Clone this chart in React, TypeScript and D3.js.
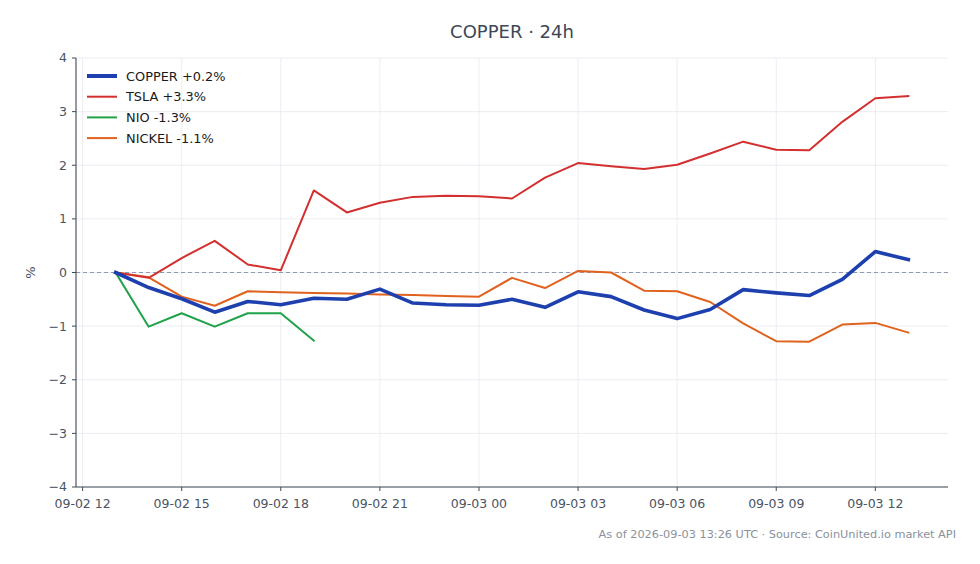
import * as d3 from "d3";

const hours = [
  "09-02 13", "09-02 14", "09-02 15", "09-02 16", "09-02 17", "09-02 18", "09-02 19",
  "09-02 20", "09-02 21", "09-02 22", "09-02 23", "09-03 00", "09-03 01", "09-03 02",
  "09-03 03", "09-03 04", "09-03 05", "09-03 06", "09-03 07", "09-03 08", "09-03 09",
  "09-03 10", "09-03 11", "09-03 12", "09-03 13",
];

const copper = [0, -0.28, -0.49, -0.74, -0.54, -0.6, -0.48, -0.5, -0.31, -0.57, -0.6, -0.61, -0.5,
  -0.65, -0.36, -0.45, -0.7, -0.86, -0.69, -0.32, -0.38, -0.43, -0.13, 0.39, 0.24];
const tsla = [0, -0.1, 0.27, 0.59, 0.15, 0.04, 1.53, 1.12, 1.3, 1.41, 1.43, 1.42, 1.38, 1.77, 2.04,
  1.98, 1.93, 2.01, 2.22, 2.44, 2.29, 2.28, 2.81, 3.25, 3.29];
const nio = [0, -1.01, -0.76, -1.01, -0.76, -0.76, -1.27];
const nickel = [0, -0.09, -0.45, -0.62, -0.35, -0.37, -0.38, -0.39, -0.41, -0.42, -0.44, -0.45, -0.1,
  -0.29, 0.03, 0.0, -0.34, -0.35, -0.55, -0.95, -1.28, -1.29, -0.97, -0.94, -1.12];

const xTickLabels = ["09-02 12", "09-02 15", "09-02 18", "09-02 21", "09-03 00", "09-03 03", "09-03 06", "09-03 09", "09-03 12"];
const yTicks = [-4, -3, -2, -1, 0, 1, 2, 3, 4];

const series = [
  { name: "COPPER +0.2%", values: copper, color: "#1e40af", width: 3.6 },
  { name: "TSLA +3.3%", values: tsla, color: "#d42f2f", width: 2 },
  { name: "NIO -1.3%", values: nio, color: "#1fa24a", width: 2 },
  { name: "NICKEL -1.1%", values: nickel, color: "#e0621e", width: 2 },
];

const parse = d3.utcParse("%Y-%m-%d %H");
const toDate = (s: string) => parse("2026-" + s)!;

export default function App() {
  const width = 980;
  const height = 564;
  const left = 76, right = 948, top = 58, bottom = 487;

  const dates = hours.map(toDate);
  const span = +dates[dates.length - 1] - +dates[0];
  const x = d3.scaleUtc()
    .domain([new Date(+dates[0] - span * 0.05), new Date(+dates[dates.length - 1] + span * 0.05)])
    .range([left, right]);
  const y = d3.scaleLinear().domain([-4, 4]).range([bottom, top]);

  const line = d3.line<number>()
    .x((_, i) => x(dates[i]))
    .y(d => y(d));

  const xTicks = xTickLabels.map(toDate);
  const axisColor = "#3f4856";
  const tickText = "#4a5363";
  const font = "DejaVu Sans, sans-serif";

  return (
    <svg width={width} height={height} style={{ position: "absolute", left: 0, top: 0, background: "#fff" }} fontFamily={font}>
      <text x={512} y={38} textAnchor="middle" fontSize={18} fill="#3d4757">COPPER · 24h</text>

      {/* grid */}
      {xTicks.map((d, i) => (
        <line key={"gx" + i} x1={x(d)} x2={x(d)} y1={top} y2={bottom} stroke="#e6e9ef" strokeWidth={0.8} />
      ))}
      {yTicks.map(v => (
        <line key={"gy" + v} x1={left} x2={right} y1={y(v)} y2={y(v)} stroke="#e6e9ef" strokeWidth={0.8} />
      ))}

      {/* zero line */}
      <line x1={left} x2={right} y1={y(0)} y2={y(0)} stroke="#8e9ab0" strokeWidth={1} strokeDasharray="4,3" />

      {/* series */}
      {series.slice().reverse().map(s => (
        <path key={s.name} d={line(s.values) ?? ""} fill="none" stroke={s.color} strokeWidth={s.width}
          strokeLinejoin="round" strokeLinecap="square" />
      ))}

      {/* axes */}
      <line x1={left} x2={left} y1={top} y2={bottom} stroke={axisColor} strokeWidth={1.1} />
      <line x1={left} x2={right} y1={bottom} y2={bottom} stroke={axisColor} strokeWidth={1.1} />
      {yTicks.map(v => (
        <g key={"yt" + v}>
          <line x1={left - 4} x2={left} y1={y(v)} y2={y(v)} stroke={axisColor} strokeWidth={1} />
          <text x={left - 9} y={y(v)} dy="0.35em" textAnchor="end" fontSize={12.5} fill={tickText}>
            {v < 0 ? "\u2212" + Math.abs(v) : v}
          </text>
        </g>
      ))}
      {xTicks.map((d, i) => (
        <g key={"xt" + i}>
          <line x1={x(d)} x2={x(d)} y1={bottom} y2={bottom + 4} stroke={axisColor} strokeWidth={1} />
          <text x={x(d)} y={bottom + 21} textAnchor="middle" fontSize={12.5} fill={tickText}>{xTickLabels[i]}</text>
        </g>
      ))}
      <text transform={`translate(35,${y(0)}) rotate(-90)`} textAnchor="middle" fontSize={13} fill={tickText}>%</text>

      {/* legend */}
      {series.map((s, i) => (
        <g key={"lg" + s.name} transform={`translate(87,${76 + i * 20.7})`}>
          <line x1={0} x2={30} y1={0} y2={0} stroke={s.color} strokeWidth={s.width === 2 ? 2 : 4} />
          <text x={39} y={0} dy="0.35em" fontSize={12.9} fill="#1a1a1a">{s.name}</text>
        </g>
      ))}

      <text x={956} y={538} textAnchor="end" fontSize={11.3} fill="#8a919c">
        As of 2026-09-03 13:26 UTC · Source: CoinUnited.io market API
      </text>
    </svg>
  );
}
